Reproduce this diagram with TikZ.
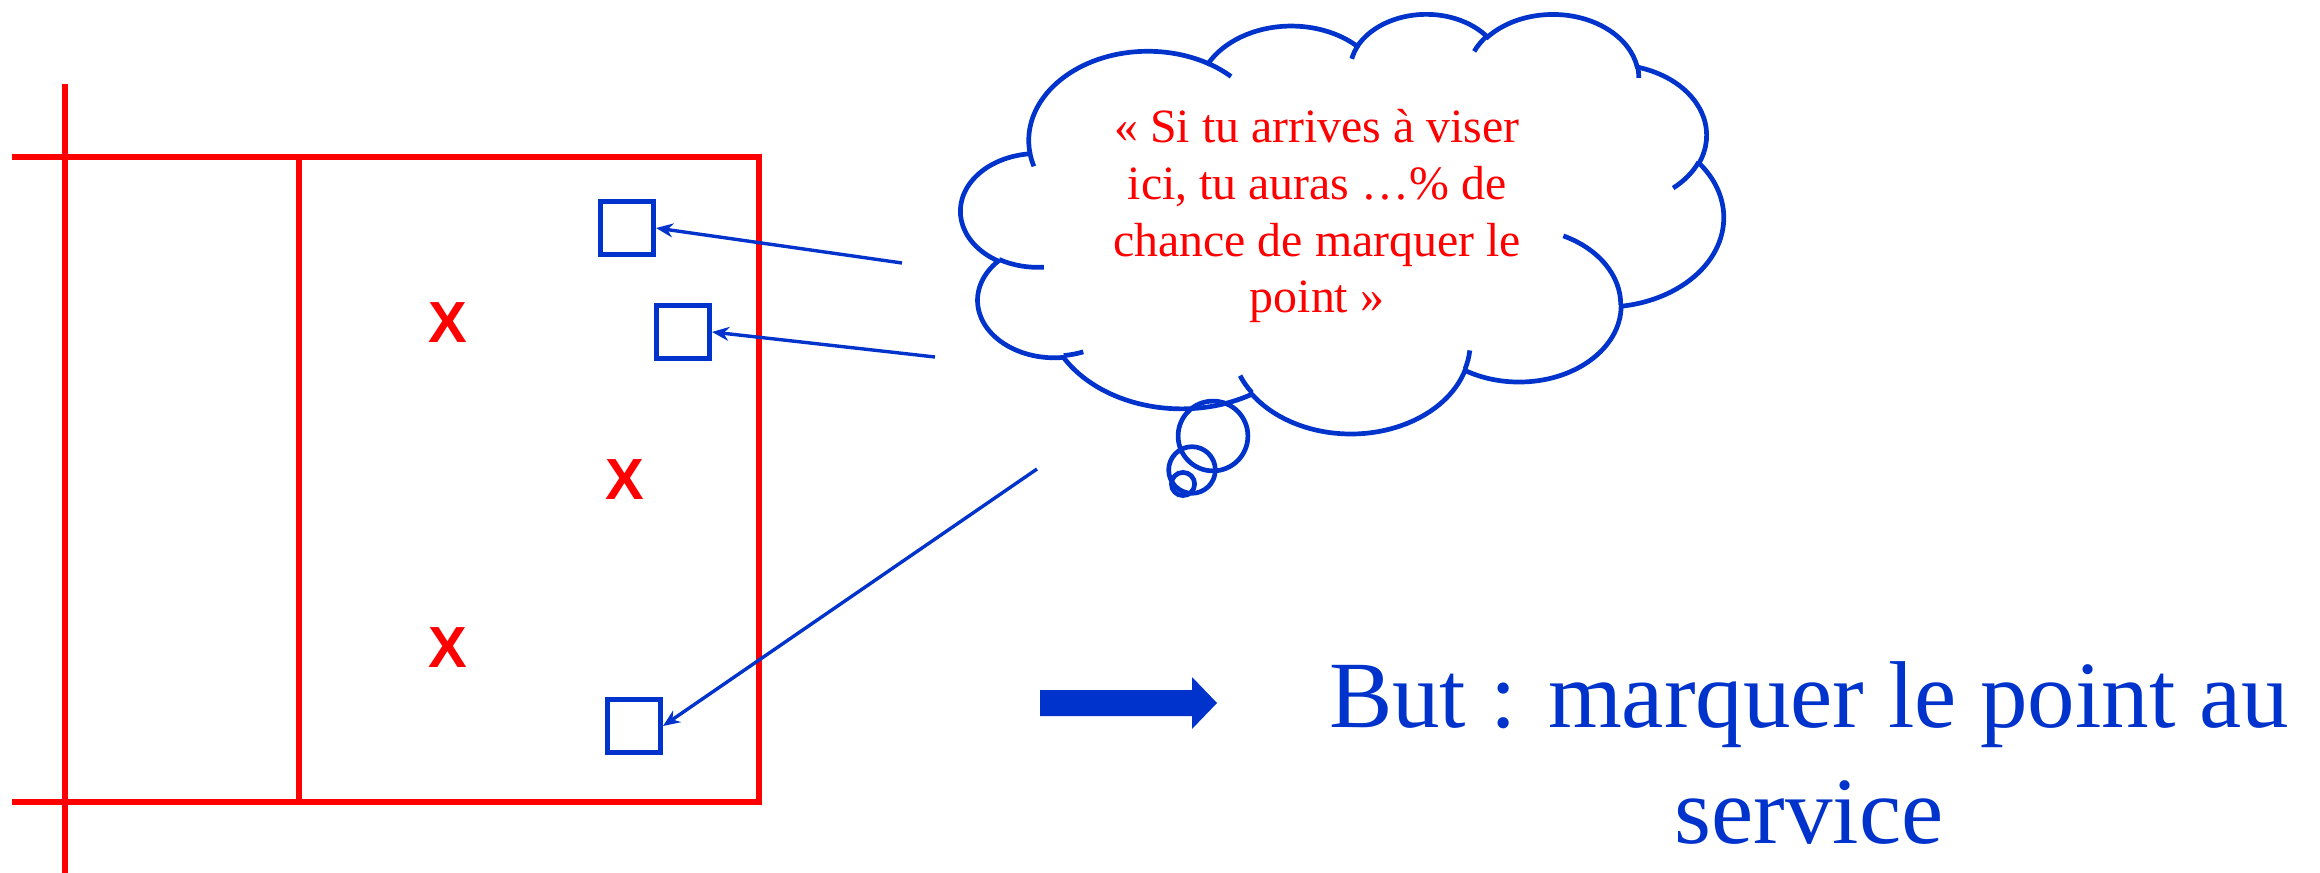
\documentclass[tikz,border=0pt]{standalone}
\usepackage{fontspec}
\setmainfont{Liberation Serif}
\newfontfamily\crossfont{Liberation Sans}
\usetikzlibrary{arrows.meta}
\definecolor{courtred}{RGB}{255,0,0}
\definecolor{inkblue}{RGB}{0,51,204}

\begin{document}
\begin{tikzpicture}[
                x=0.01cm,
                y=-0.01cm,
                court/.style={draw=courtred, line width=0.055cm},
                cloudline/.style={draw=inkblue, line width=0.047cm},
                spot/.style={draw=inkblue, line width=0.05cm, minimum size=0.53cm, inner sep=0pt},
                cross/.style={text=courtred, inner sep=0pt, font=\crossfont\bfseries\fontsize{16.5}{16.5}\selectfont},
                pointer/.style={draw=inkblue, line width=0.034cm, -{Stealth[length=0.17cm, width=0.14cm]}},
                bump/.style n args={4}{x radius=#1, y radius=#2, start angle={vis(#3,#1,#2)}, end angle={vis(#3+#4,#1,#2)}},
                declare function={
                    vis(\a,\b,\c) = atan2(\b*sin(\a), \c*cos(\a)) + 360*round((\a - atan2(\b*sin(\a), \c*cos(\a)))/360);
                }
            ]

            \useasboundingbox (0,0) rectangle (2320,873);

            \draw[court] (65,84) -- (65,873);
            \draw[court] (12,157) -- (759,157) -- (759,802) -- (12,802);
            \draw[court] (299,157) -- (299,802);

            \node[cross] (p1) at (448,323) {X};
            \node[cross] (p2) at (625,480) {X};
            \node[cross] (p3) at (448,648) {X};

            \node[spot] (sq1) at (627,228) {};
            \node[spot] (sq2) at (683,332) {};
            \node[spot] (sq3) at (634,726) {};

            \begin{scope}[shift={(961,13)}, x=0.017639cm, y=-0.009699cm]
                \draw[cloudline] (39.00,143.70)
                    arc[bump={67.53}{91.90}{-190.4875}{123.7805}]
                    arc[bump={53.33}{72.67}{-144.1024}{89.9452}]
                    arc[bump={43.65}{59.45}{-145.8079}{99.7230}]
                    arc[bump={48.57}{65.95}{-130.9861}{117.2417}]
                    arc[bump={53.33}{72.73}{-78.7089}{109.0269}]
                    arc[bump={67.75}{92.20}{-46.2673}{130.2690}]
                    arc[bump={57.85}{78.67}{0.6250}{114.0333}]
                    arc[bump={67.52}{92.15}{22.4516}{115.1726}]
                    arc[bump={77.20}{105.43}{66.2426}{75.7110}]
                    arc[bump={43.60}{59.18}{-274.9421}{146.7356}]
                    arc[bump={43.45}{59.45}{-246.8285}{152.5189}]
                    -- cycle;
                \draw[cloudline]
                    (46.93,261.77) arc[bump={43.45}{59.45}{86.742}{26.4295}]
                    (69.28,348.99) arc[bump={43.60}{59.18}{73.6105}{11.4475}]
                    (164.78,390.90) arc[bump={67.52}{92.15}{137.6242}{14.0811}]
                    (288.27,347.51) arc[bump={67.52}{92.15}{6.4533}{15.9984}]
                    (341.29,229.54) arc[bump={57.85}{78.67}{-70.2924}{70.9174}]
                    (417.98,153.54) arc[bump={53.33}{72.73}{30.3180}{27.7515}]
                    (383.24,54.26) arc[bump={48.57}{65.95}{-13.7443}{14.8547}]
                    (290.78,39.52) arc[bump={48.57}{65.95}{-149.1815}{18.1954}]
                    (221.41,47.20) arc[bump={43.65}{59.45}{-163.4943}{17.6864}]
                    (140.00,51.92) arc[bump={67.53}{91.90}{-66.7070}{12.3194}]
                    (41.27,157.89) arc[bump={67.53}{91.90}{157.6544}{11.8582}];
            \end{scope}

            \draw[cloudline] (1183,484) circle[radius=11.6];
            \draw[cloudline] (1192,470) circle[radius=23.3];
            \draw[cloudline] (1213,436) circle[radius=34.9];

            \node[text=courtred, align=center, inner sep=0pt, font=\fontsize{13.6}{16.2}\selectfont] (bubble) at (1317,216) {« Si tu arrives à viser\\ ici, tu auras …\% de\\ chance de marquer le\\ point »};

            \coordinate (t1) at (902,263);
            \coordinate (t2) at (935,357);
            \coordinate (t3) at (1037,469);

            \draw[pointer] (t1) -- (sq1.east);
            \draw[pointer] (t2) -- (sq2.east);
            \draw[pointer] (t3) -- (sq3.east);

            \fill[inkblue] (1040,690) -- (1192,690) -- (1192,677) -- (1217,703) -- (1192,729) -- (1192,716) -- (1040,716) -- cycle;

            \node[text=inkblue, align=center, inner sep=0pt, font=\fontsize{27}{33}\selectfont] (goal) at (1809,753) {But : marquer le point au\\ service};

            \end{tikzpicture}
\end{document}
